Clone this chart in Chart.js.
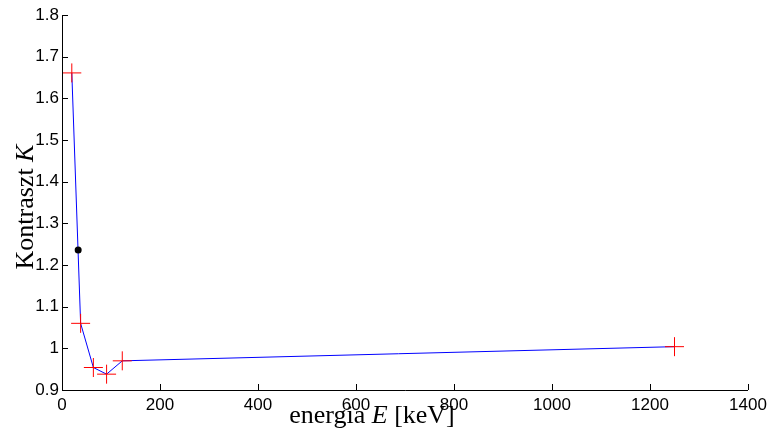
<!DOCTYPE html>
<html>
<head>
<meta charset="utf-8">
<script src="https://cdn.jsdelivr.net/npm/chart.js@4"></script>
<style>
  body { margin: 0; background: #fff; }
</style>
</head>
<body>
<canvas id="kontrast" width="773" height="438"></canvas>
<script>
// energia E [keV] i kontrast K
var energy = [20, 38, 64, 91, 123, 1250];
var contrast = [1.661, 1.060, 0.954, 0.938, 0.970, 1.004];
var dotEnergy = [33];
var dotContrast = [1.236];

var xTicks = [0, 200, 400, 600, 800, 1000, 1200, 1400];
var yTicks = [0.9, 1, 1.1, 1.2, 1.3, 1.4, 1.5, 1.6, 1.7, 1.8];

var pts = energy.map(function(e, i) {
    return { x: e, y: contrast[i] };
});
var dot = dotEnergy.map(function(e, i) {
    return { x: e, y: dotContrast[i] };
});

// osie, kreski do srodka i podpisy osi (z kursywa)
var axesPlugin = {
    id: 'axesPlugin',
    afterDraw: function(chart) {
        var c = chart.ctx;
        var a = chart.chartArea;
        var xs = chart.scales.x, ys = chart.scales.y;
        c.save();
        c.strokeStyle = '#000';
        c.lineWidth = 1;
        c.beginPath();
        c.moveTo(a.left + 0.5, a.top);
        c.lineTo(a.left + 0.5, a.bottom + 0.5);
        c.lineTo(a.right, a.bottom + 0.5);
        xTicks.forEach(function(v) {
            var px = Math.round(xs.getPixelForValue(v)) + 0.5;
            c.moveTo(px, a.bottom);
            c.lineTo(px, a.bottom - 6);
        });
        yTicks.forEach(function(v) {
            var py = Math.round(ys.getPixelForValue(v)) + 0.5;
            c.moveTo(a.left, py);
            c.lineTo(a.left + 6, py);
        });
        c.stroke();

        c.fillStyle = '#000';
        c.textBaseline = 'alphabetic';
        c.textAlign = 'left';
        var normal = '26px "Liberation Serif"';
        var italic = 'italic 26px "Liberation Serif"';

        function parts(list) {
            var w = 0;
            list.forEach(function(p) {
                c.font = p[1];
                p.w = c.measureText(p[0]).width;
                w += p.w;
            });
            return w;
        }
        function drawParts(list, x, y) {
            list.forEach(function(p) {
                c.font = p[1];
                c.fillText(p[0], x, y);
                x += p.w;
            });
        }

        var xt = [['energia ', normal], ['E', italic], [' [keV]', normal]];
        var wx = parts(xt);
        drawParts(xt, 372 - wx / 2, 423);

        var yt = [['Kontraszt ', normal], ['K', italic]];
        var wy = parts(yt);
        c.translate(33, 207);
        c.rotate(-Math.PI / 2);
        drawParts(yt, -wy / 2, 0);
        c.restore();
    }
};

var ctx = document.getElementById('kontrast').getContext('2d');
var config = {
    type: 'scatter',
    data: {
        datasets: [{
            label: 'linia',
            data: pts,
            showLine: true,
            borderColor: 'rgb(0, 0, 255)',
            borderWidth: 1,
            pointRadius: 0,
            order: 3
        }, {
            label: 'pomiar',
            data: pts,
            pointStyle: 'cross',
            pointRadius: 9.5,
            pointBorderColor: 'rgb(255, 0, 0)',
            pointBorderWidth: 1,
            order: 2
        }, {
            label: 'punkt',
            data: dot,
            pointStyle: 'circle',
            pointRadius: 3.5,
            pointBackgroundColor: '#000',
            pointBorderColor: '#000',
            pointBorderWidth: 0,
            order: 1
        }]
    },
    options: {
        responsive: false,
        animation: false,
        layout: { padding: { left: 0, right: 25, top: 15, bottom: 0 } },
        plugins: {
            legend: { display: false },
            tooltip: { enabled: false }
        },
        scales: {
            x: {
                type: 'linear',
                min: 0,
                max: 1400,
                afterBuildTicks: function(s) {
                    s.ticks = xTicks.map(function(v) { return { value: v }; });
                },
                afterFit: function(s) { s.height = 48; },
                grid: { display: false, drawTicks: false },
                border: { display: false },
                ticks: {
                    padding: 5,
                    color: '#000',
                    maxRotation: 0,
                    font: { family: 'Liberation Sans', size: 17 },
                    callback: function(v) { return String(v); }
                }
            },
            y: {
                type: 'linear',
                min: 0.9,
                max: 1.8,
                afterBuildTicks: function(s) {
                    s.ticks = yTicks.map(function(v) { return { value: v }; });
                },
                afterFit: function(s) { s.width = 62; },
                grid: { display: false, drawTicks: false },
                border: { display: false },
                ticks: {
                    padding: 3,
                    color: '#000',
                    font: { family: 'Liberation Sans', size: 17 },
                    callback: function(v) { return v === 1 ? '1' : v.toFixed(1); }
                }
            }
        }
    },
    plugins: [axesPlugin]
};

var chart = new Chart(ctx, config);
</script>
</body>
</html>
